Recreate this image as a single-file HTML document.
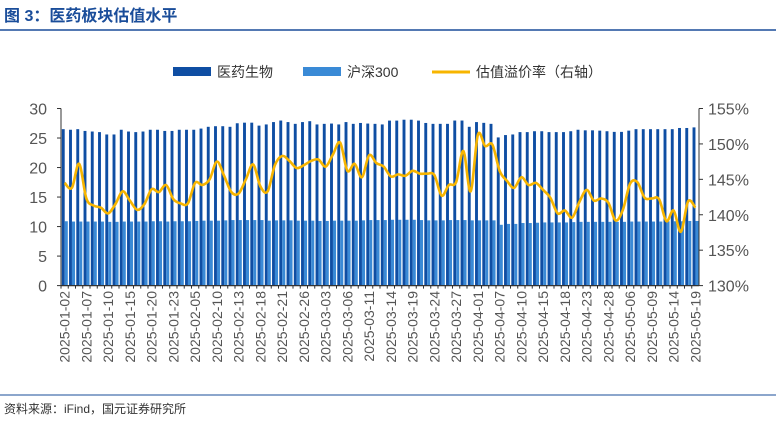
<!DOCTYPE html>
<html><head><meta charset="utf-8"><style>
body{margin:0;background:#fff;width:776px;height:423px;overflow:hidden;font-family:"Liberation Sans","Noto Sans CJK SC",sans-serif}
</style></head><body>
<svg width="776" height="423" viewBox="0 0 776 423" xmlns="http://www.w3.org/2000/svg">
<text x="4" y="21" font-size="16" font-weight="bold" fill="#1a4d9a" font-family="Liberation Sans,Noto Sans CJK SC,sans-serif">图 3：医药板块估值水平</text>
<line x1="0" y1="30" x2="776" y2="30" stroke="#1a4d9a" stroke-width="1.5"/>
<g id="legend" font-size="14" fill="#333">
<rect x="173" y="67" width="38" height="9" fill="#0f4ea3"/>
<text x="217" y="77">医药生物</text>
<rect x="303" y="67" width="38" height="9" fill="#3a8ad6"/>
<text x="347" y="77">沪深300</text>
<line x1="432" y1="72" x2="470" y2="72" stroke="#f7b500" stroke-width="3"/>
<text x="476" y="77">估值溢价率（右轴）</text>
</g>
<g id="plot"></g>
<line x1="0" y1="395" x2="776" y2="395" stroke="#1a4d9a" stroke-width="1"/>
<text x="4" y="413" font-size="12" fill="#333">资料来源：iFind，国元证券研究所</text>
</svg>
<script>
const dates=["2025-01-02","2025-01-03","2025-01-06","2025-01-07","2025-01-08","2025-01-09","2025-01-10","2025-01-13","2025-01-14","2025-01-15","2025-01-16","2025-01-17","2025-01-20","2025-01-21","2025-01-22","2025-01-23","2025-01-24","2025-01-27","2025-02-05","2025-02-06","2025-02-07","2025-02-10","2025-02-11","2025-02-12","2025-02-13","2025-02-14","2025-02-17","2025-02-18","2025-02-19","2025-02-20","2025-02-21","2025-02-24","2025-02-25","2025-02-26","2025-02-27","2025-02-28","2025-03-03","2025-03-04","2025-03-05","2025-03-06","2025-03-07","2025-03-10","2025-03-11","2025-03-12","2025-03-13","2025-03-14","2025-03-17","2025-03-18","2025-03-19","2025-03-20","2025-03-21","2025-03-24","2025-03-25","2025-03-26","2025-03-27","2025-03-28","2025-03-31","2025-04-01","2025-04-02","2025-04-03","2025-04-07","2025-04-08","2025-04-09","2025-04-10","2025-04-11","2025-04-14","2025-04-15","2025-04-16","2025-04-17","2025-04-18","2025-04-21","2025-04-22","2025-04-23","2025-04-24","2025-04-25","2025-04-28","2025-04-29","2025-04-30","2025-05-06","2025-05-07","2025-05-08","2025-05-09","2025-05-12","2025-05-13","2025-05-14","2025-05-15","2025-05-16","2025-05-19"];
const pharmaPE=[26.5,26.4,26.5,26.2,26.1,26.0,25.6,25.6,26.4,26.1,26.0,26.1,26.4,26.4,26.2,26.2,26.4,26.4,26.4,26.6,26.9,27.0,27.0,26.9,27.5,27.6,27.6,27.1,27.3,27.7,27.96,27.7,27.4,27.7,27.85,27.3,27.4,27.45,27.3,27.7,27.4,27.55,27.45,27.4,27.3,27.95,27.95,28.1,28.1,27.95,27.55,27.4,27.4,27.4,27.96,27.96,26.9,27.7,27.57,27.4,25.1,25.5,25.6,26.0,26.0,26.15,26.15,26.0,26.0,26.0,26.15,26.4,26.3,26.3,26.25,26.15,26.04,26.04,26.25,26.5,26.5,26.5,26.5,26.5,26.5,26.7,26.7,26.8];
const csi300PE=[10.9,10.85,10.85,10.85,10.85,10.85,10.8,10.8,10.85,10.85,10.85,10.85,10.9,10.9,10.85,10.9,10.9,10.9,10.95,11.0,11.0,11.0,11.05,11.1,11.1,11.1,11.1,11.1,11.0,11.05,11.05,11.05,11.0,11.0,11.0,10.95,10.95,11.0,11.0,11.0,11.0,11.05,11.1,11.1,11.1,11.15,11.15,11.15,11.15,11.1,11.05,11.05,11.05,11.1,11.1,11.1,11.05,11.05,11.05,11.05,10.3,10.45,10.45,10.6,10.6,10.65,10.7,10.7,10.7,10.7,10.75,10.8,10.8,10.8,10.8,10.8,10.8,10.8,10.85,10.85,10.85,10.85,10.85,10.9,10.9,10.9,10.95,10.95];
const premium=[144.5,143.8,147.2,142.3,141.3,141.0,140.2,141.5,143.3,142.0,140.7,141.5,143.6,143.2,144.2,142.2,141.6,141.6,144.5,144.2,145.0,147.5,145.5,143.2,143.0,145.0,147.1,144.0,143.3,147.0,148.3,147.6,146.6,147.0,147.6,147.8,146.8,148.5,150.2,146.2,147.2,145.3,148.4,147.3,146.8,145.4,145.7,145.5,146.2,145.8,145.8,145.6,142.7,144.2,144.6,149.0,143.3,151.3,149.7,149.9,146.2,144.8,143.8,145.3,144.2,144.5,143.5,142.4,140.2,140.6,139.6,141.8,143.5,142.0,142.3,141.7,139.2,140.7,144.4,144.6,142.4,142.3,142.2,139.1,140.6,137.6,141.9,141.0];
const leftTicks=[0,5,10,15,20,25,30];
const rightTicks=[130,135,140,145,150,155];

const NS="http://www.w3.org/2000/svg";
const plot=document.getElementById('plot');
const X0=61,X1=699,Y0=285.6,Y1=108.5;
const slot=(X1-X0)/dates.length;
function xSlot(i){return X0+i*slot;}
function yL(v){return Y0-(v-0)/(30-0)*(Y0-Y1);}
function yR(v){return Y0-(v-130)/(155-130)*(Y0-Y1);}
function mk(tag,attrs){const e=document.createElementNS(NS,tag);for(const k in attrs)e.setAttribute(k,attrs[k]);plot.appendChild(e);return e;}

dates.forEach((d,i)=>{
  const b=mk('rect',{x:xSlot(i)+0.8,y:yL(pharmaPE[i]),width:2.9,height:Y0-yL(pharmaPE[i]),fill:'#0f4ea3'});
  
  
  const c=mk('rect',{x:xSlot(i)+3.7,y:yL(csi300PE[i]),width:3.1,height:Y0-yL(csi300PE[i]),fill:'#3a8ad6'});
  
  
});
// smooth line (catmull-rom)
const pts=premium.map((v,i)=>[xSlot(i)+slot/2,yR(v)]);
let dstr='M'+pts[0][0]+','+pts[0][1];
for(let i=0;i<pts.length-1;i++){
  const p0=pts[Math.max(0,i-1)],p1=pts[i],p2=pts[i+1],p3=pts[Math.min(pts.length-1,i+2)];
  const c1=[p1[0]+(p2[0]-p0[0])/6,p1[1]+(p2[1]-p0[1])/6];
  const c2=[p2[0]-(p3[0]-p1[0])/6,p2[1]-(p3[1]-p1[1])/6];
  dstr+=' C'+c1[0]+','+c1[1]+' '+c2[0]+','+c2[1]+' '+p2[0]+','+p2[1];
}
const line=mk('path',{d:dstr,fill:'none',stroke:'#f7b500','stroke-width':2.6,'stroke-linejoin':'round'});



const al=mk('line',{x1:X0,y1:Y1,x2:X0,y2:Y0,stroke:'#333','stroke-width':1});


const ar=mk('line',{x1:X1,y1:Y1,x2:X1,y2:Y0,stroke:'#333','stroke-width':1});


const ax=mk('line',{x1:X0,y1:Y0,x2:X1,y2:Y0,stroke:'#333','stroke-width':1.2});



leftTicks.forEach(t=>{
  const tk=mk('line',{x1:X0-4,y1:yL(t),x2:X0,y2:yL(t),stroke:'#333'});
  
  
  const tx=mk('text',{x:47,y:yL(t)+6,'text-anchor':'end','font-size':16,fill:'#555'});
  tx.textContent=t;
  
  
});
rightTicks.forEach(t=>{
  const tk=mk('line',{x1:X1,y1:yR(t),x2:X1+4,y2:yR(t),stroke:'#333'});
  
  
  const tx=mk('text',{x:708,y:yR(t)+6,'font-size':16,fill:'#555'});
  tx.textContent=t+'%';
  
  
});
dates.forEach((d,i)=>{
  const tk=mk('line',{x1:xSlot(i),y1:Y0,x2:xSlot(i),y2:Y0+3,stroke:'#333'});
  
  
  if(i%3===0){
    const cx=xSlot(i)+slot/2+5;
    const tx=mk('text',{x:cx,y:291,'text-anchor':'end','font-size':14,fill:'#555',transform:'rotate(-90 '+cx+' 291)'});
    tx.textContent=d;
    
    
  }
});
</script>
</body></html>
